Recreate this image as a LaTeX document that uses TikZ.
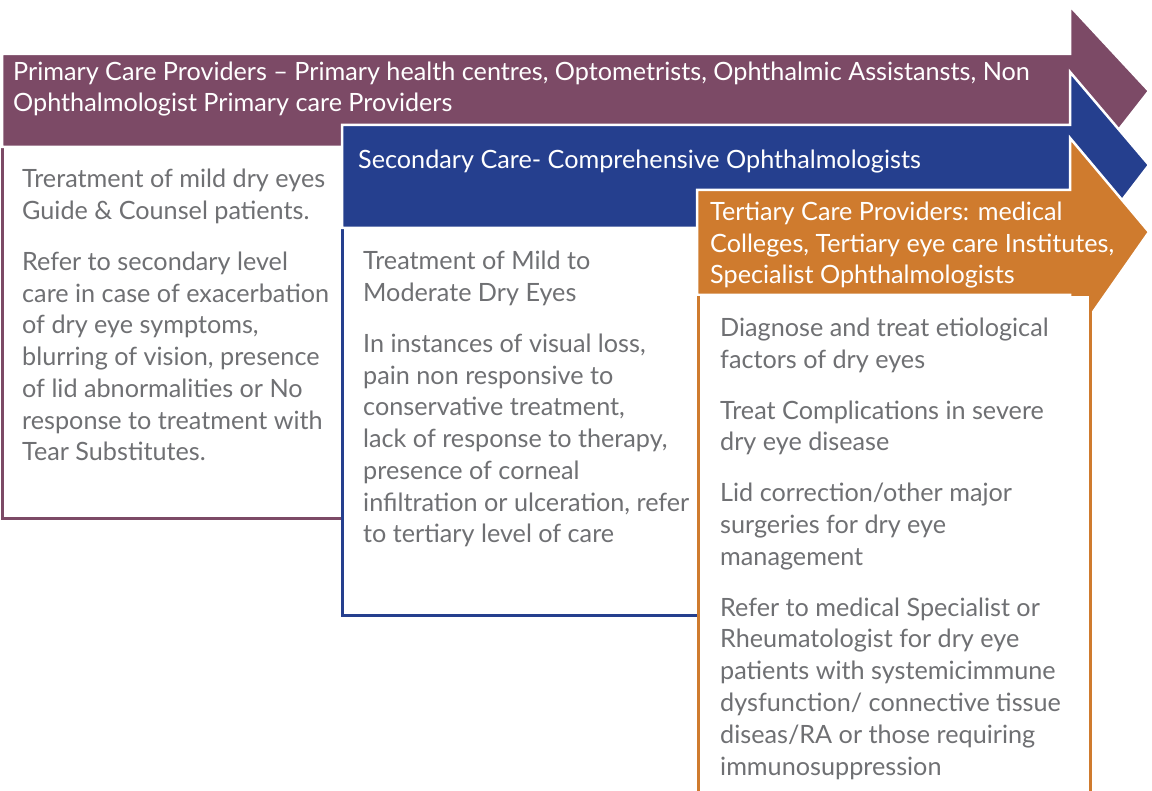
\documentclass[tikz,border=0pt]{standalone}
\usepackage{fontspec}
\setmainfont{Lato}
\definecolor{primcol}{HTML}{7C4A66}
\definecolor{seccol}{HTML}{253F8E}
\definecolor{tertcol}{HTML}{CF7B2E}
\definecolor{bodytext}{HTML}{6F7073}
\tikzset{
  band/.style={draw=white, line width=2.5pt, line join=miter},
  panel/.style={line width=3pt, fill=white},
  headtext/.style={anchor=base west, inner sep=0pt, align=left, text=white,
    font=\fontsize{25.2}{31.8}\selectfont},
  paneltext/.style={anchor=base west, inner sep=0pt, align=left, text=bodytext,
    font=\fontsize{25.2}{31.8}\selectfont},
}
\begin{document}
\begin{tikzpicture}[x=1pt, y=-1pt]
\useasboundingbox (0,0) rectangle (1152,791);
\clip (0,0) rectangle (1152,791);

% primary level: panel and banner
\path[panel] (2,148) rectangle (342,519);
\draw[panel, draw=primcol, fill=none] (2,148) -- (2,519) -- (342,519);
\fill[primcol, band] (2,54) -- (1070,54) -- (1070,6) -- (1149,91) -- (1070,192)
  -- (1070,147) -- (2,147) -- cycle;

% secondary level
\path[panel] (342,228) rectangle (698,615);
\draw[panel, draw=seccol, fill=none] (342,228) -- (342,615) -- (698,615);
\fill[seccol, band] (342,125) -- (1070,125) -- (1070,72) -- (1149,165) -- (1070,268)
  -- (1070,228) -- (342,228) -- cycle;

% tertiary level: banner drawn first, panel covers the lower part of its head
\fill[tertcol, band] (697,190) -- (1070,190) -- (1070,138) -- (1149,232) -- (1070,345)
  -- (1070,295) -- (697,295) -- cycle;
\path[panel] (698,296) rectangle (1090,800);
\draw[panel, draw=tertcol, fill=none] (698,296) -- (698,800);
\draw[panel, draw=tertcol, fill=none] (1090,294) -- (1090,800);

% banner titles (anchored at the baseline of their last line)
\node[headtext] (primhead) at (13,112)
  {Primary Care Providers – Primary health centres, Optometrists, Ophthalmic Assistansts, Non\\
   Ophthalmologist Primary care Providers};
\node[headtext] (sechead) at (358,169) {Secondary Care- Comprehensive Ophthalmologists};
\node[headtext] (terthead) at (710,284)
  {Tertiary Care Providers: medical\\ Colleges, Tertiary eye care Institutes,\\ Specialist Ophthalmologists};

% panel texts
\node[paneltext] (primbody) at (22,461)
  {Treratment of mild dry eyes\\ Guide \& Counsel patients.\\[19pt]
   Refer to secondary level\\ care in case of exacerbation\\ of dry eye symptoms,\\
   blurring of vision, presence\\ of lid abnormalities or No\\ response to treatment with\\
   Tear Substitutes.};
\node[paneltext] (secbody) at (363,543)
  {Treatment of Mild to\\ Moderate Dry Eyes\\[19pt]
   In instances of visual loss,\\ pain non responsive to\\ conservative treatment,\\
   lack of response to therapy,\\ presence of corneal\\ infiltration or ulceration, refer\\
   to tertiary level of care};
\node[paneltext] (tertbody) at (720,775)
  {Diagnose and treat etiological\\ factors of dry eyes\\[19pt]
   Treat Complications in severe\\ dry eye disease\\[19pt]
   Lid correction/other major\\ surgeries for dry eye\\ management\\[19pt]
   Refer to medical Specialist or\\ Rheumatologist for dry eye\\ patients with systemicimmune\\
   dysfunction/ connective tissue\\ diseas/RA or those requiring\\ immunosuppression};
\end{tikzpicture}
\end{document}
